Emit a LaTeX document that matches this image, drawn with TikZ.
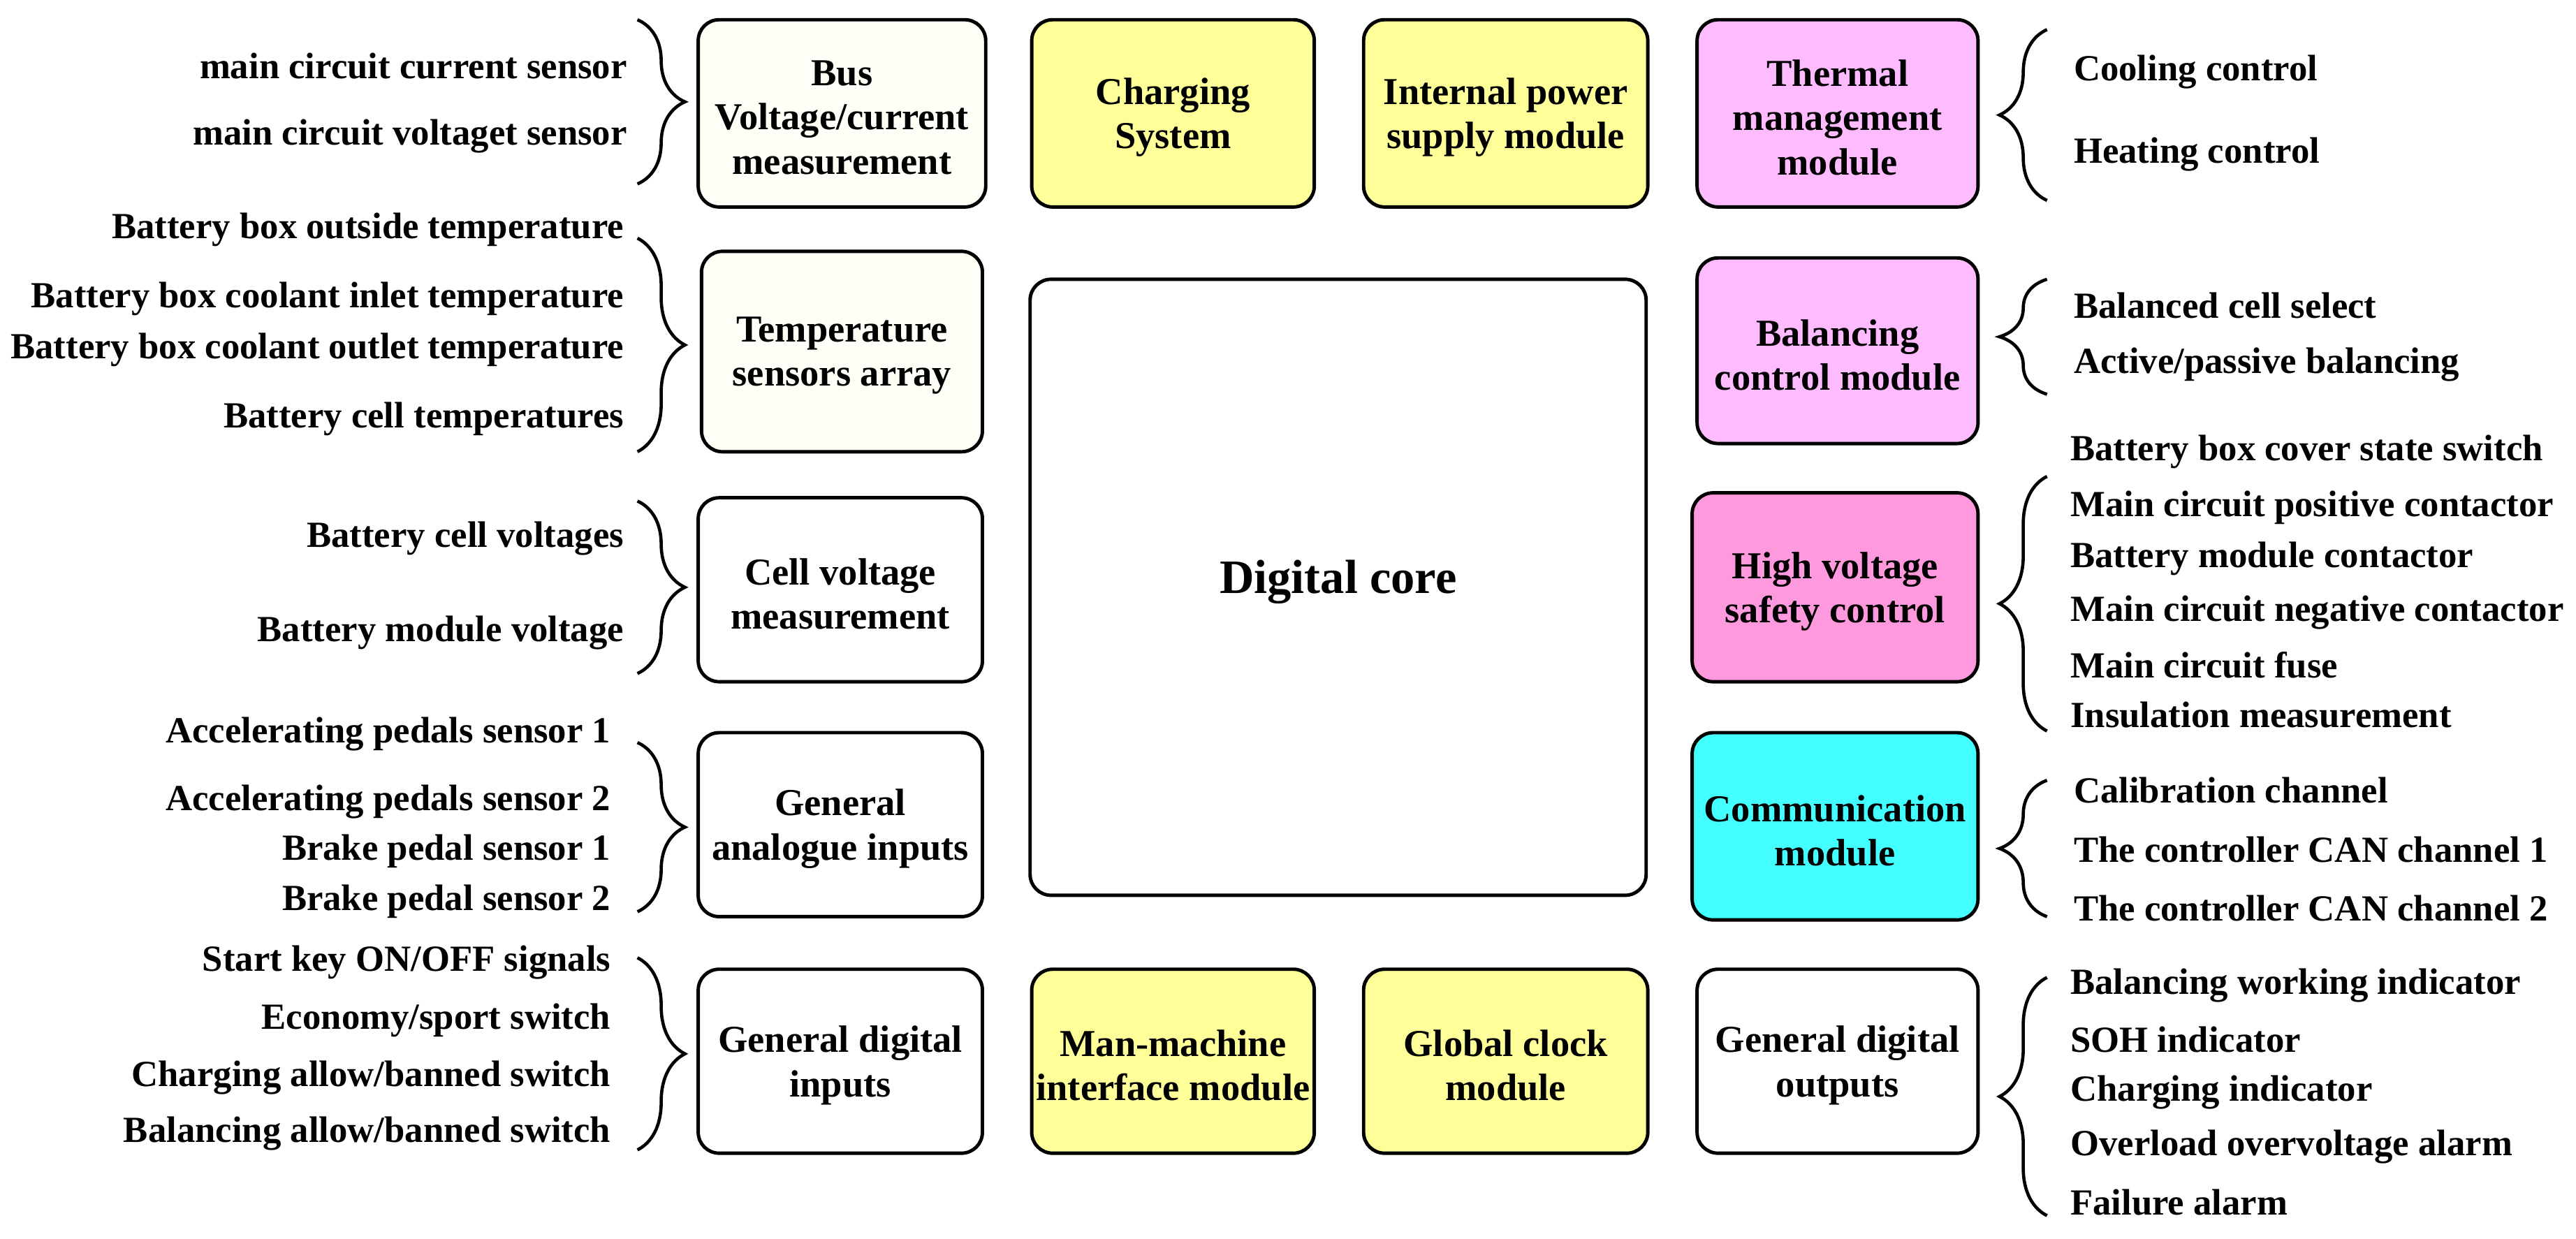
\documentclass[tikz,border=0pt]{standalone}
\usepackage{fontspec}
\setmainfont{Liberation Serif}
\usetikzlibrary{fit,decorations.pathreplacing}
\definecolor{yel}{HTML}{FFFF99}
\definecolor{pnk}{HTML}{FFBBFF}
\definecolor{hvp}{HTML}{FF99DD}
\definecolor{cyn}{HTML}{44FFFF}
\definecolor{crm}{HTML}{FFFFF8}
\newcommand{\bxx}[5]{\node[box,fill=#2,fit={#3}] (#1) {};
  \node[btxt,#4] (#1t) at ([yshift=-0.06cm]#1.center) {#5};}
\begin{document}
\begin{tikzpicture}[x=0.02352cm,y=-0.02352cm,
  box/.style={draw=black,line width=1.4pt,rounded corners=0.3cm,inner sep=0pt},
  btxt/.style={align=center,inner sep=0pt,font=\fontsize{15.5}{18}\selectfont\bfseries},
  lbl/.style={font=\fontsize{15}{18}\selectfont\bfseries,inner sep=0pt},
  lt/.style={lbl,anchor=east},
  rt/.style={lbl,anchor=west},
  brc/.style={decorate,decoration={brace,amplitude=0.68cm,aspect=0.5},line width=1.3pt}]
\useasboundingbox (0,0) rectangle (1568,754);
% boxes
\bxx{bus}{crm}{(425,12)(600,126)}{}{Bus\\Voltage/current\\measurement}
\bxx{chg}{yel}{(628,12)(800,126)}{}{Charging\\System}
\bxx{ips}{yel}{(830,12)(1003,126)}{}{Internal power\\supply module}
\bxx{thm}{pnk}{(1033,12)(1204,126)}{}{Thermal\\management\\module}
\bxx{tmp}{crm}{(427,153)(598,275)}{}{Temperature\\sensors array}
\bxx{core}{white}{(627,170)(1002,545)}{yshift=0.14cm,font=\fontsize{19.5}{22}\selectfont\bfseries}{Digital core}
\bxx{bal}{pnk}{(1033,157)(1204,270)}{}{Balancing\\control module}
\bxx{cell}{white}{(425,303)(598,415)}{}{Cell voltage\\measurement}
\bxx{hv}{hvp}{(1030,300)(1204,415)}{}{High voltage\\safety control}
\bxx{ana}{white}{(425,446)(598,558)}{}{General\\analogue inputs}
\bxx{com}{cyn}{(1030,446)(1204,560)}{}{Communication\\module}
\bxx{din}{white}{(425,590)(598,702)}{}{General digital\\inputs}
\bxx{mmi}{yel}{(628,590)(800,702)}{}{Man-machine\\interface module}
\bxx{clk}{yel}{(830,590)(1003,702)}{}{Global clock\\module}
\bxx{dout}{white}{(1033,590)(1204,702)}{}{General digital\\outputs}
% left braces
\draw[brc] (388,12) -- (388,112);
\draw[brc] (388,145) -- (388,275);
\draw[brc] (388,305) -- (388,410);
\draw[brc] (388,452) -- (388,555);
\draw[brc] (388,583) -- (388,700);
% right braces
\draw[brc] (1246,122) -- (1246,18);
\draw[brc] (1246,240) -- (1246,170);
\draw[brc] (1246,445) -- (1246,290);
\draw[brc] (1246,558) -- (1246,475);
\draw[brc] (1246,740) -- (1246,595);
% left texts
\node[lt] (l1) at (382,40) {main circuit current sensor};
\node[lt] (l2) at (382,83) {main circuit voltaget sensor};
\node[lt] (l3) at (380,140) {Battery box outside temperature};
\node[lt] (l4) at (380,182) {Battery box coolant inlet temperature};
\node[lt] (l5) at (380,213) {Battery box coolant outlet temperature};
\node[lt] (l6) at (380,255) {Battery cell temperatures};
\node[lt] (l7) at (380,328) {Battery cell voltages};
\node[lt] (l8) at (380,385) {Battery module voltage};
\node[lt] (l9) at (372,447) {Accelerating pedals sensor 1};
\node[lt] (l10) at (372,488) {Accelerating pedals sensor 2};
\node[lt] (l11) at (372,518) {Brake pedal sensor 1};
\node[lt] (l12) at (372,549) {Brake pedal sensor 2};
\node[lt] (l13) at (372,586) {Start key ON/OFF signals};
\node[lt] (l14) at (372,621) {Economy/sport switch};
\node[lt] (l15) at (372,656) {Charging allow/banned switch};
\node[lt] (l16) at (372,690) {Balancing allow/banned switch};
% right texts
\node[rt] (r1) at (1262,44) {Cooling control};
\node[rt] (r2) at (1262,94) {Heating control};
\node[rt] (r3) at (1262,186) {Balanced cell select};
\node[rt] (r4) at (1262,222) {Active/passive balancing};
\node[rt] (r5) at (1260,275) {Battery box cover state switch};
\node[rt] (r6) at (1260,309) {Main circuit positive contactor};
\node[rt] (r7) at (1260,340) {Battery module contactor};
\node[rt] (r8) at (1260,373) {Main circuit negative contactor};
\node[rt] (r9) at (1260,405) {Main circuit fuse};
\node[rt] (r10) at (1260,435) {Insulation measurement};
\node[rt] (r11) at (1262,481) {Calibration channel};
\node[rt] (r12) at (1262,517) {The controller CAN channel 1};
\node[rt] (r13) at (1262,553) {The controller CAN channel 2};
\node[rt] (r14) at (1260,600) {Balancing working indicator};
\node[rt] (r15) at (1260,633) {SOH indicator};
\node[rt] (r16) at (1260,665) {Charging indicator};
\node[rt] (r17) at (1260,698) {Overload overvoltage alarm};
\node[rt] (r18) at (1260,732) {Failure alarm};
\end{tikzpicture}
\end{document}
